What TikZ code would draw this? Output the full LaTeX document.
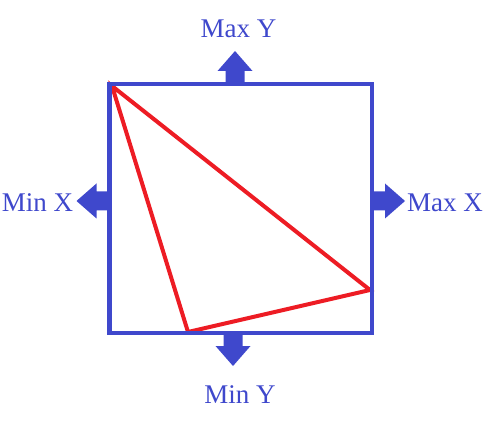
\documentclass[tikz,border=0pt]{standalone}
\usepackage{fontspec}
\setmainfont{Liberation Serif}
\usepackage{xcolor}
\definecolor{boxblue}{HTML}{3F48CC}
\definecolor{trired}{HTML}{ED1C24}

\begin{document}
\begin{tikzpicture}[x=1pt,y=-1pt,
  lbl/.style={inner sep=0pt, anchor=base, text=boxblue, font=\fontsize{27}{32}\selectfont},
  blockarrow/.style={fill=boxblue}]
\useasboundingbox (0,0) rectangle (487,438);

% corners of the box
\coordinate (TL) at (109.5,84);
\coordinate (BR) at (372,333);

% triangle vertices
\coordinate (A) at (112,86);
\coordinate (B) at (370,290);
\coordinate (C) at (188,332);

% arrow bases on the box
\coordinate (maxy) at (235,84);
\coordinate (miny) at (233,333);
\coordinate (minx) at (109.5,201);
\coordinate (maxx) at (372,201);

\draw[trired, line width=4pt, line join=miter] (A) -- (B) -- (C) -- cycle;
\draw[boxblue, line width=4.5pt] (TL) rectangle (BR);

\foreach \p/\a in {maxy/90, minx/180, maxx/0, miny/270}
  \fill[blockarrow, shift={(\p)}, rotate=\a]
    (0,-9.5) -- (13,-9.5) -- (13,-17.5) -- (33,0) -- (13,17.5) -- (13,9.5) -- (0,9.5) -- cycle;

\node[lbl] (lmaxy) at (238.5,38) {Max Y};
\node[lbl] (lminy) at (240,403) {Min Y};
\node[lbl] (lminx) at (37.5,212) {Min X};
\node[lbl] (lmaxx) at (445,212) {Max X};
\end{tikzpicture}
\end{document}
